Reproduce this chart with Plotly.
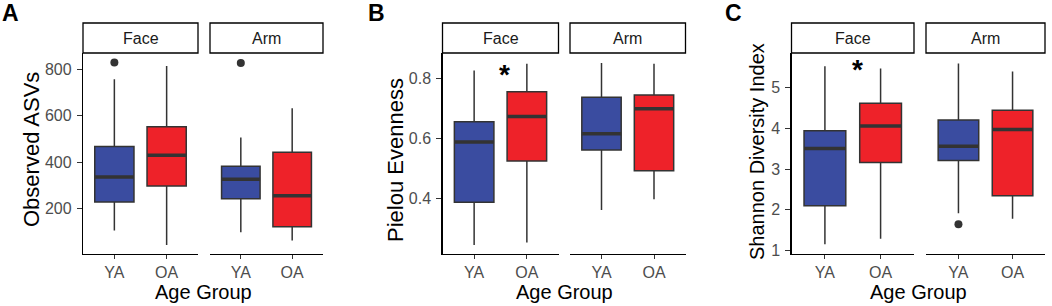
import plotly.graph_objects as go

W, H = 1052, 306

groups = ["YA", "OA"]
facets = ["Face", "Arm"]
group_pos = [1, 2]

# Panel A: Observed ASVs  [facet][group] -> (lowerfence, q1, median, q3, upperfence)
asv_lower = [[107, 45], [100, 64]]
asv_q1 = [[230, 298], [243, 123]]
asv_median = [[337, 431], [327, 256]]
asv_q3 = [[468, 553], [383, 443]]
asv_upper = [[757, 814], [507, 633]]
asv_outliers = [[[829], []], [[827], []]]

# Panel B: Pielou Evenness
pielou_lower = [[0.247, 0.255], [0.363, 0.399]]
pielou_q1 = [[0.389, 0.526], [0.562, 0.493]]
pielou_median = [[0.589, 0.673], [0.616, 0.699]]
pielou_q3 = [[0.656, 0.755], [0.737, 0.745]]
pielou_upper = [[0.826, 0.848], [0.851, 0.848]]
pielou_outliers = [[[], []], [[], []]]

# Panel C: Shannon Diversity Index
shannon_lower = [[1.157, 1.294], [1.92, 1.78]]
shannon_q1 = [[2.10, 3.16], [3.21, 2.344]]
shannon_median = [[3.50, 4.056], [3.555, 3.966]]
shannon_q3 = [[3.934, 4.613], [4.20, 4.44]]
shannon_upper = [[5.515, 5.46], [5.58, 5.39]]
shannon_outliers = [[[], []], [[1.65], []]]

y_titles = ["Observed ASVs", "Pielou Evenness", "Shannon Diversity Index"]
y_ticks = [[200, 400, 600, 800], [0.4, 0.6, 0.8], [1, 2, 3, 4, 5]]
y_ticktext = [["200", "400", "600", "800"], ["0.4", "0.6", "0.8"], ["1", "2", "3", "4", "5"]]
y_ranges = [[6, 870], [0.217, 0.884], [0.92, 5.84]]
panel_letters = ["A", "B", "C"]
# significance star (Face panel, between groups): panel index -> y value
star_y = [None, 0.833, 5.58]

panels = [
    (asv_lower, asv_q1, asv_median, asv_q3, asv_upper, asv_outliers),
    (pielou_lower, pielou_q1, pielou_median, pielou_q3, pielou_upper, pielou_outliers),
    (shannon_lower, shannon_q1, shannon_median, shannon_q3, shannon_upper, shannon_outliers),
]

colors = ["#3A4CA0", "#EE2229"]
edge = "#333333"
box_w = 0.75
FONT = "Liberation Sans, Arial, Helvetica, sans-serif"
TICK_SIZE = 16

# layout geometry in pixels
facet_px = [
    [(83, 198), (210, 323)],
    [(442.5, 558.5), (570, 685.5)],
    [(791.5, 914), (926, 1045)],
]
plot_top, plot_bot = 53, 254
strip_top = 23
ytitle_pos = [(31, 150), (395, 160), (757, 152)]
letter_pos = [(0, 13), (366, 13), (723, 13)]
xtitle_y = 292


def px_x(p):
    return p / W


def px_y(p):
    return 1 - p / H


fig = go.Figure()
layout = dict(
    width=W, height=H, margin=dict(l=0, r=0, t=0, b=0, autoexpand=False),
    paper_bgcolor="white", plot_bgcolor="white", showlegend=False,
    font=dict(family=FONT, color="black"),
)
shapes = []
annotations = []

for p in range(3):
    lower, q1, med, q3, upper, outl = panels[p]
    for f in range(2):
        i = p * 2 + f + 1
        xa = "x" if i == 1 else f"x{i}"
        ya = "y" if i == 1 else f"y{i}"
        xkey = "xaxis" if i == 1 else f"xaxis{i}"
        ykey = "yaxis" if i == 1 else f"yaxis{i}"
        x0, x1 = facet_px[p][f]
        layout[xkey] = dict(
            domain=[px_x(x0), px_x(x1)], anchor=ya, range=[0.4, 2.6],
            tickvals=group_pos, ticktext=groups, showline=True, linecolor="black",
            linewidth=1.2, ticks="outside", ticklen=4, tickcolor="#333333",
            tickfont=dict(size=TICK_SIZE, color="#4D4D4D", family=FONT),
            showgrid=False, zeroline=False, fixedrange=True, automargin=False,
        )
        ydict = dict(
            domain=[px_y(plot_bot), px_y(plot_top)], anchor=xa, range=y_ranges[p],
            showgrid=False, zeroline=False, fixedrange=True, automargin=False,
        )
        if f == 0:
            ydict.update(
                tickvals=y_ticks[p], ticktext=y_ticktext[p], showline=True,
                linecolor="black", linewidth=1.2, ticks="outside", ticklen=5,
                tickcolor="#333333", tickfont=dict(size=TICK_SIZE, color="#4D4D4D", family=FONT),
                ticklabelstandoff=2,
            )
        else:
            ydict.update(showline=False, showticklabels=False, ticks="")
        layout[ykey] = ydict

        for g in range(2):
            pos = group_pos[g]
            fig.add_trace(go.Box(
                x=[pos], q1=[q1[f][g]], median=[med[f][g]], q3=[q3[f][g]],
                lowerfence=[lower[f][g]], upperfence=[upper[f][g]],
                width=box_w, fillcolor=colors[g], line=dict(color=edge, width=1.5),
                whiskerwidth=0, boxpoints=False, xaxis=xa, yaxis=ya,
                hoverinfo="skip",
            ))
            fig.add_trace(go.Scatter(
                x=[pos - box_w / 2, pos + box_w / 2], y=[med[f][g], med[f][g]],
                mode="lines", line=dict(color=edge, width=3.5),
                xaxis=xa, yaxis=ya, hoverinfo="skip",
            ))
            if outl[f][g]:
                fig.add_trace(go.Scatter(
                    x=[pos] * len(outl[f][g]), y=outl[f][g], mode="markers",
                    marker=dict(color=edge, size=8), xaxis=xa, yaxis=ya,
                    hoverinfo="skip",
                ))

        # strip
        shapes.append(dict(
            type="rect", xref="paper", yref="paper",
            x0=px_x(x0), x1=px_x(x1), y0=px_y(plot_top), y1=px_y(strip_top),
            line=dict(color="black", width=1.3), fillcolor="white", layer="above",
        ))
        annotations.append(dict(
            text=facets[f], xref="paper", yref="paper",
            x=px_x((x0 + x1) / 2), y=px_y((plot_top + strip_top) / 2),
            showarrow=False, font=dict(size=16, color="#1A1A1A", family=FONT),
            xanchor="center", yanchor="middle",
        ))

        if f == 0 and star_y[p] is not None:
            annotations.append(dict(
                text="<b>*</b>", xref=xa, yref=ya, x=1.58, y=star_y[p],
                showarrow=False, font=dict(size=28, color="black", family=FONT),
                xanchor="center", yanchor="middle", yshift=-6,
            ))

    # x title
    xl = facet_px[p][0][0]
    xr = facet_px[p][1][1]
    annotations.append(dict(
        text="Age Group", xref="paper", yref="paper",
        x=px_x((xl + xr) / 2), y=px_y(xtitle_y), showarrow=False,
        font=dict(size=20, color="black", family=FONT),
        xanchor="center", yanchor="middle",
    ))
    # y title
    tx, ty = ytitle_pos[p]
    annotations.append(dict(
        text=y_titles[p], xref="paper", yref="paper",
        x=px_x(tx), y=px_y(ty), showarrow=False, textangle=-90,
        font=dict(size=22 if p < 2 else 20, color="black", family=FONT),
        xanchor="center", yanchor="middle",
    ))
    # panel letter
    lx, ly = letter_pos[p]
    annotations.append(dict(
        text=f"<b>{panel_letters[p]}</b>", xref="paper", yref="paper",
        x=px_x(lx), y=px_y(ly), showarrow=False,
        font=dict(size=23, color="black", family=FONT),
        xanchor="left", yanchor="middle",
    ))

layout["shapes"] = shapes
layout["annotations"] = annotations
fig.update_layout(**layout)
fig.write_html(
    "out.html",
    config={"displayModeBar": False, "staticPlot": True},
    post_script=(
        "document.documentElement.style.margin='0';"
        "document.documentElement.style.padding='0';"
        "document.body.style.margin='0';"
        "document.body.style.padding='0';"
        "document.body.style.overflow='hidden';"
    ),
)
